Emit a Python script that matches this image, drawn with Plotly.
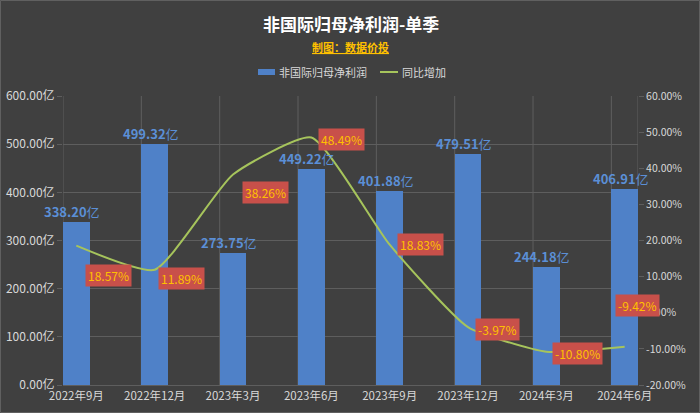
import plotly.graph_objects as go

categories = ["2022年9月", "2022年12月", "2023年3月", "2023年6月",
              "2023年9月", "2023年12月", "2024年3月", "2024年6月"]
profit = [338.20, 499.32, 273.75, 449.22, 401.88, 479.51, 244.18, 406.91]
yoy = [18.57, 11.89, 38.26, 48.49, 18.83, -3.97, -10.80, -9.42]
left_ticks = [0, 100, 200, 300, 400, 500, 600]
right_ticks = [-20, -10, 0, 10, 20, 30, 40, 50, 60]
series_names = ["非国际归母净利润", "同比增加"]

# style: label offsets (px) for the YoY labels
label_dx = [32, 27, 33, 30, 31, 29, 31, 13]
label_dy = [-30, -9, -18, -2, 0, -2, -2, 41]

FONT = "Noto Sans CJK SC"
BG = "#404040"
GRID = "#5e5e5e"
TXT = "#d9d9d9"
BAR_C = "#4F81C8"
LINE_C = "#A6C45C"

W, H = 700, 413
ML, MR, MT, MB = 63, 62, 96, 28
PW, PH = W - ML - MR, H - MT - MB


def px(x):
    return (x - ML) / PW


def py(y):
    return (H - MB - y) / PH


xs = list(range(len(categories)))
bw = 0.34

fig = go.Figure()
fig.add_trace(go.Bar(
    x=xs, y=profit, width=bw, name=series_names[0],
    marker=dict(color=BAR_C, line=dict(width=0)),
))
fig.add_trace(go.Scatter(
    x=xs, y=yoy, name=series_names[1], yaxis="y2", mode="lines",
    line=dict(color=LINE_C, width=2, shape="spline", smoothing=0.5),
))

for i, v in enumerate(profit):
    fig.add_annotation(
        x=xs[i], y=v, xref="x", yref="y", text=f"<b>{v:.2f}</b>亿",
        showarrow=False, yanchor="bottom", xshift=-4, yshift=-1,
        font=dict(color="#5B8FD6", size=13, family=FONT),
    )

for i, v in enumerate(yoy):
    fig.add_annotation(
        x=xs[i], y=v, xref="x", yref="y2", text=f"{v:.2f}%",
        showarrow=False, xshift=label_dx[i], yshift=label_dy[i],
        bgcolor="#C8504A", font=dict(color="#FFC000", size=12, family=FONT),
        borderpad=2,
    )

# vertical gridlines at bar edges
for i in xs:
    fig.add_shape(type="line", xref="x", yref="paper", x0=i - bw / 2, x1=i - bw / 2,
                  y0=0, y1=1, line=dict(color=GRID, width=1), layer="below")
fig.add_shape(type="line", xref="x", yref="paper", x0=xs[-1] + bw / 2, x1=xs[-1] + bw / 2,
              y0=0, y1=1, line=dict(color=GRID, width=1), layer="below")

# titles
fig.add_annotation(x=0.5, y=1, xref="paper", yref="paper", yanchor="middle", yshift=MT - 23,
                   text="<b>非国际归母净利润-单季</b>", showarrow=False,
                   font=dict(color="#ffffff", size=17, family=FONT))
fig.add_annotation(x=0.5, y=1, xref="paper", yref="paper", yanchor="middle", yshift=MT - 47,
                   text="<b><u>制图：数据价投</u></b>", showarrow=False,
                   font=dict(color="#FFC000", size=11, family=FONT))

# custom compact legend
fig.add_shape(type="rect", xref="paper", yref="paper", x0=px(258), x1=px(275),
              y0=py(75), y1=py(69), fillcolor=BAR_C, line=dict(width=0))
fig.add_annotation(x=px(277), y=py(72), xref="paper", yref="paper", xanchor="left",
                   yanchor="middle", text=series_names[0], showarrow=False,
                   font=dict(color=TXT, size=11, family=FONT))
fig.add_shape(type="line", xref="paper", yref="paper", x0=px(380), x1=px(398),
              y0=py(72), y1=py(72), line=dict(color=LINE_C, width=2))
fig.add_annotation(x=px(400), y=py(72), xref="paper", yref="paper", xanchor="left",
                   yanchor="middle", text=series_names[1], showarrow=False,
                   font=dict(color=TXT, size=11, family=FONT))

# outer border
fig.add_shape(type="rect", xref="paper", yref="paper", x0=px(0.5), x1=px(W - 0.5),
              y0=py(H - 0.5), y1=py(0.5), line=dict(color="#606060", width=1),
              fillcolor="rgba(0,0,0,0)")

fig.update_layout(
    width=W, height=H,
    paper_bgcolor=BG, plot_bgcolor=BG,
    margin=dict(l=ML, r=MR, t=MT, b=MB),
    font=dict(family=FONT, color=TXT, size=12),
    showlegend=False,
    bargap=0,
    xaxis=dict(range=[-bw / 2, xs[-1] + bw / 2], tickvals=xs, ticktext=categories,
               showgrid=False, zeroline=False, tickfont=dict(size=11.5, color=TXT),
               showline=True, linecolor=GRID, ticks="", automargin=False),
    yaxis=dict(range=[0, 600], tickvals=left_ticks,
               ticktext=[f"{v:.2f}亿" for v in left_ticks],
               showgrid=True, gridcolor=GRID, zeroline=False,
               ticks="outside", ticklen=5, tickcolor=GRID, automargin=False,
               tickfont=dict(size=12, color=TXT)),
    yaxis2=dict(range=[-20, 60], tickvals=right_ticks,
                ticktext=[f"{v:.2f}%" for v in right_ticks],
                overlaying="y", side="right", showgrid=False, zeroline=False,
                ticks="outside", ticklen=5, tickcolor=GRID, automargin=False,
                tickfont=dict(size=10.5, color=TXT)),
)

fig.write_html("out.html", config={"displayModeBar": False},
               post_script="document.body.style.margin='0';document.body.style.overflow='hidden';")
